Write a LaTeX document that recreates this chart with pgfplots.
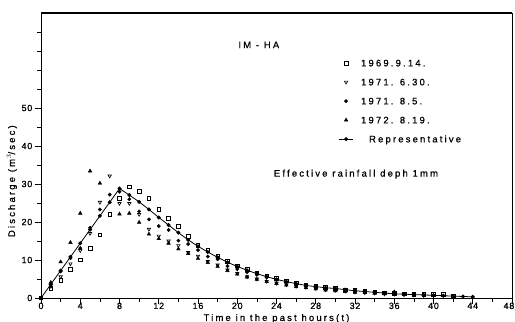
\documentclass[border=0pt]{standalone}
\usepackage{fontspec}
\setmainfont{Liberation Sans}
\newfontfamily\plotfont[LetterSpace=23, FakeBold=0.8]{Liberation Sans}
\newfontfamily\tickfont[LetterSpace=8, FakeBold=0.8]{Liberation Sans}
\usepackage{pgfplots}
\usepackage{pgfplotstable}
\pgfplotsset{compat=1.18}

% legend pictures: a single mark, or a short line with a mark in the middle
\pgfplotsset{
  marklegend/.style={legend image code/.code={%
    \path[draw=none, fill=none] (0bp,-3bp) rectangle (16bp,3bp);
    \draw[##1] plot coordinates {(8bp,0bp)};}},
  linelegend/.style={legend image code/.code={%
    \path[draw=none, fill=none] (0bp,-3bp) rectangle (16bp,3bp);
    \draw[mark repeat=2, mark phase=2, ##1] plot coordinates {(1bp,0bp) (8bp,0bp) (15bp,0bp)};}},
}

% Unit hydrograph, station IM-HA: observed events and representative curve
\pgfplotstableread{
t Q
0 0
1 2.5
2 4.7
3 7.6
4 10.0
5 13.1
6 16.6
7 22.0
8 26.2
9 29.3
10 28.0
11 26.2
12 23.3
13 21.0
14 18.8
15 16.2
16 13.9
17 12.6
18 10.9
19 9.6
20 8.5
21 7.5
22 6.6
23 5.8
24 5.1
25 4.5
26 4.0
27 3.5
28 3.1
29 2.8
30 2.5
31 2.2
32 2.0
33 1.8
34 1.6
35 1.4
36 1.3
37 1.1
38 1.0
39 0.9
40 0.9
41 0.9
42 0.6
}\evA

\pgfplotstableread{
t Q
1 3.3
2 5.6
3 9.0
4 12.5
5 17.0
6 25.2
7 32.1
8 24.9
9 24.9
10 22.0
11 18.1
12 16.3
13 15.0
14 13.8
15 12.0
16 11.0
17 9.6
18 8.7
19 7.4
20 6.5
21 5.6
22 5.0
23 4.4
24 3.9
25 3.5
26 3.1
27 2.8
28 2.5
29 2.2
30 2.0
31 1.8
32 1.6
33 1.4
34 1.3
35 1.1
36 1.0
37 0.9
38 0.8
39 0.7
40 0.6
}\evB

\pgfplotstableread{
t Q
1 3.0
2 7.0
3 10.5
4 13.1
5 18.5
6 23.3
7 27.2
8 28.0
9 26.0
10 22.8
11 20.7
12 18.9
13 17.9
14 15.1
15 14.2
16 12.6
17 10.9
18 10.2
19 8.4
20 7.6
21 6.8
22 6.1
23 5.4
24 4.7
25 4.1
26 3.6
27 3.2
28 2.8
29 2.5
30 2.2
31 1.9
32 1.7
33 1.5
34 1.3
35 1.2
36 1.0
37 0.9
38 0.8
39 0.7
40 0.6
}\evC

\pgfplotstableread{
t Q
1 4.1
2 9.5
3 14.6
4 22.3
5 33.4
6 30.2
8 22.1
9 22.3
10 19.9
11 16.8
12 15.6
13 14.4
14 12.9
15 11.7
16 10.4
17 9.3
18 8.3
19 7.2
20 6.3
21 5.5
22 4.9
23 4.3
24 3.8
25 3.4
26 3.0
27 2.7
28 2.4
29 2.1
30 1.9
31 1.7
32 1.5
33 1.4
34 1.2
35 1.1
36 1.6
37 0.9
38 0.8
}\evD

\pgfplotstableread{
t Q
0 0
1 3.6
2 7.2
3 10.8
4 14.4
5 18.0
6 21.6
7 25.2
8 28.8
9 27.1
10 25.3
11 23.3
12 21.2
13 19.2
14 17.2
15 15.3
16 13.6
17 12.1
18 10.7
19 9.4
20 8.3
21 7.3
22 6.4
23 5.6
24 4.9
25 4.3
26 3.8
27 3.3
28 3.0
29 2.7
30 2.5
31 2.2
32 1.9
33 1.7
34 1.5
35 1.3
36 1.1
37 1.0
38 0.9
39 0.8
40 0.7
41 0.6
42 0.5
43 0.4
44 0.3
}\repr

\begin{document}
\begin{tikzpicture}
\begin{axis}[
  name=ax, at={(0,0)}, anchor=south west,
  scale only axis, width=471bp, height=285bp,
  xmin=0, xmax=48, ymin=0, ymax=75,
  xtick={0,4,...,44}, minor xtick={2,6,...,46},
  extra x ticks={48},
  extra x tick style={xticklabel style={anchor=north east, xshift=2.5bp}},
  ytick={0,10,...,50}, minor ytick={5,15,25,35,45,55,60,65,70},
  tick align=outside, tick pos=left,
  major tick length=6bp, minor tick length=3.5bp,
  axis line style={line width=0.8pt},
  every tick/.style={black, line width=0.6pt},
  /pgf/number format/assume math mode=true,
  tick label style={font=\tickfont\fontsize{9}{10}\selectfont},
  xticklabel style={inner sep=0pt, yshift=1.5bp},
  yticklabel style={inner sep=1pt, xshift=-1.5bp},
  label style={font=\plotfont\fontsize{9.5}{11}\selectfont},
  xlabel={Time in the past hours(t)},
  ylabel={Discharge (m$^3$/sec)},
  xlabel style={at={(axis description cs:0.5,-0.072)}, anchor=center},
  ylabel style={at={(axis description cs:-0.062,0.41)}, anchor=center},
  legend cell align=left,
  legend style={at={(axis description cs:0.624,0.845)}, anchor=north west,
    draw=none, fill=none, font=\plotfont\fontsize{9.5}{11}\selectfont,
    row sep=11.5bp, column sep=7bp,
    nodes={inner sep=0pt, text height=7bp, text depth=0.5bp}},
  marklegend,
]
\addplot[only marks, mark=square*, mark size=1.8bp, mark options={fill=white, line width=0.65pt}]
  table {\evA};
\addlegendentry{1969.9.14.}
\addplot[only marks, mark=triangle*, mark size=1.9bp, mark options={rotate=180, fill=white, line width=0.65pt}]
  table {\evB};
\addlegendentry{1971. 6.30.}
\addplot[only marks, mark=*, mark size=1.7bp]
  table {\evC};
\addlegendentry{1971. 8.5.}
\addplot[only marks, mark=triangle*, mark size=2.1bp]
  table {\evD};
\addlegendentry{1972. 8.19.}
\addplot[line width=0.8pt, mark=*, mark size=1.6bp, linelegend]
  table {\repr};
\addlegendentry{\hspace{8bp}Representative}

\node[font=\plotfont\fontsize{9.5}{11}\selectfont] at (axis cs:22.2,66.6) {IM - HA};
\node[font=\plotfont\fontsize{9.5}{11}\selectfont] at (axis cs:32.1,32.6) {Effective rainfall deph 1mm};
\end{axis}
\draw[line width=1.4pt] (ax.north west) -- (ax.north east);
\pgfresetboundingbox
\path[use as bounding box] (-41bp,-24bp) rectangle (474bp,298bp);
\end{tikzpicture}
\end{document}
